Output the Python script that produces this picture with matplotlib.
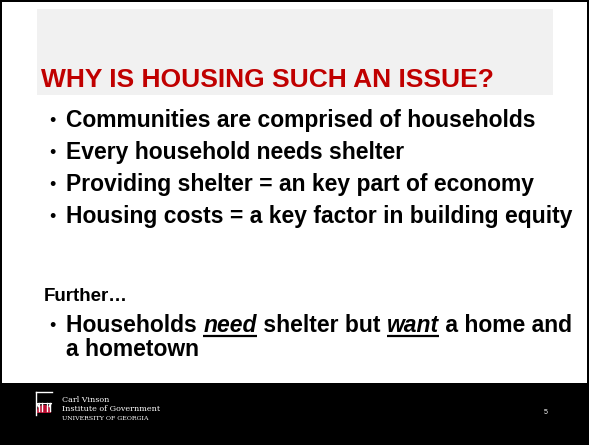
import matplotlib
matplotlib.use("Agg")
import matplotlib.pyplot as plt
from matplotlib.patches import Rectangle, Wedge, Arc

title = "WHY IS HOUSING SUCH AN ISSUE?"
bullets = [
    "Communities are comprised of households",
    "Every household needs shelter",
    "Providing shelter = an key part of economy",
    "Housing costs = a key factor in building equity",
]
further = "Further\u2026"
last_bullet = [("Households ", False), ("need", True), (" shelter but ", False),
               ("want", True), (" a home and", False)]
last_bullet_line2 = "a hometown"
footer_lines = ["Carl Vinson", "Institute of Government", "UNIVERSITY OF GEORGIA"]
page_no = "5"

W, H = 589, 445
fig = plt.figure(figsize=(W / 100, H / 100), dpi=100)
fig.patch.set_facecolor("black")
ax = fig.add_axes([0, 0, 1, 1])
ax.set_xlim(0, W)
ax.set_ylim(H, 0)
ax.axis("off")

FONT = "Liberation Sans"
RED = "#C00000"
BS = 16.5
DOT = 13

# white slide area
ax.add_patch(Rectangle((2, 2), W - 4, 381, facecolor="white", edgecolor="none"))
# grey title box
ax.add_patch(Rectangle((37, 9), 516, 86, facecolor="#F1F1F1", edgecolor="none"))

ax.text(41, 87, title, color=RED, fontsize=19, fontweight="bold",
        family=FONT, va="baseline", ha="left")

ys = [127, 159, 191, 223]
for y, b in zip(ys, bullets):
    ax.text(49, y - 1, "\u2022", fontsize=DOT, family=FONT, va="baseline", color="black")
    ax.text(66, y, b, fontsize=BS, fontweight="bold", family=FONT,
            va="baseline", color="black")

ax.text(44, 301, further, fontsize=13.5, fontweight="bold", family=FONT,
        va="baseline", color="black")

fig.canvas.draw()
renderer = fig.canvas.get_renderer()
inv = ax.transData.inverted()

y1 = 332
ax.text(49, y1 - 1, "\u2022", fontsize=DOT, family=FONT, va="baseline", color="black")
x = 66
for piece, emph in last_bullet:
    t = ax.text(x, y1, piece, fontsize=BS, fontweight="bold", family=FONT,
                va="baseline", color="black",
                style="italic" if emph else "normal")
    bb = t.get_window_extent(renderer=renderer)
    (x0, _), (x1, _) = inv.transform([(bb.x0, bb.y0), (bb.x1, bb.y1)])
    if emph:
        ax.plot([x0, x1], [y1 + 3.5, y1 + 3.5], color="black", lw=1.6,
                solid_capstyle="butt")
    x = x1
ax.text(66, 356, last_bullet_line2, fontsize=BS, fontweight="bold", family=FONT,
        va="baseline", color="black")

# footer logo (arch)
ax.plot([36, 36], [392, 415], color="white", lw=1.0)
ax.plot([36, 52], [392, 392], color="white", lw=1.0)
ax.add_patch(Arc((44, 403), 13, 13, theta1=0, theta2=180,
                 color="white", lw=1.4))
ax.plot([37.5, 50.5], [403, 403], color="white", lw=0.8)
for cx in [38.5, 41.5, 46.5, 49.5]:
    ax.plot([cx, cx], [403, 411], color="white", lw=1.0)
ax.add_patch(Wedge((44, 412), 7.2, 180, 360, facecolor="#BA0C2F",
                   edgecolor="none"))
ax.add_patch(Rectangle((36.8, 410), 14.4, 2.5, facecolor="#BA0C2F",
                       edgecolor="none"))

ax.text(62, 402, footer_lines[0], color="white", fontsize=5.8,
        family="DejaVu Serif", va="baseline")
ax.text(62, 411, footer_lines[1], color="white", fontsize=5.8,
        family="DejaVu Serif", va="baseline")
ax.text(62, 420, footer_lines[2], color="white", fontsize=4.5,
        family="DejaVu Serif", va="baseline")
ax.text(546, 412, page_no, color="white", fontsize=5, family=FONT,
        va="center", ha="center")

fig.savefig("out.png", dpi=100, facecolor="black")
